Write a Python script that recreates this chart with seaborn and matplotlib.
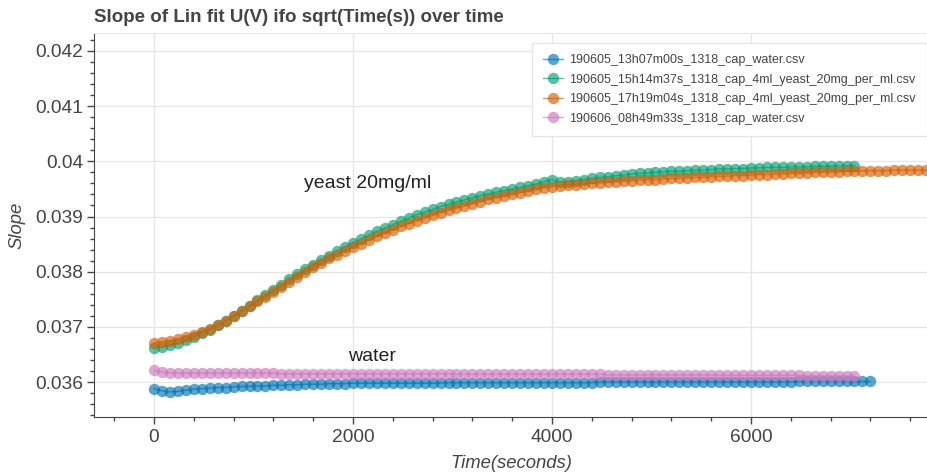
import numpy as np
import pandas as pd
import matplotlib
matplotlib.use('Agg')
import matplotlib.pyplot as plt
import seaborn as sns
from matplotlib.ticker import MultipleLocator, FixedLocator, FixedFormatter

# file names (legend entries)
files = [
    '190605_13h07m00s_1318_cap_water.csv',
    '190605_15h14m37s_1318_cap_4ml_yeast_20mg_per_ml.csv',
    '190605_17h19m04s_1318_cap_4ml_yeast_20mg_per_ml.csv',
    '190606_08h49m33s_1318_cap_water.csv',
]

# sampling grid, seconds
time_s = np.arange(0, 7921, 80)

# slope values
water_1 = [
    0.03588, 0.03584, 0.03582, 0.03583, 0.03585, 0.03587, 0.03588, 0.03589, 0.03590, 0.03590,
    0.03591, 0.03592, 0.03592, 0.03593, 0.03593, 0.03594, 0.03594, 0.03595, 0.03595, 0.03596,
    0.03596, 0.03596, 0.03597, 0.03597, 0.03597, 0.03598, 0.03598, 0.03598, 0.03598, 0.03598,
    0.03598, 0.03598, 0.03598, 0.03598, 0.03598, 0.03598, 0.03598, 0.03599, 0.03599, 0.03599,
    0.03599, 0.03599, 0.03599, 0.03599, 0.03599, 0.03599, 0.03599, 0.03599, 0.03599, 0.03599,
    0.03599, 0.03599, 0.03599, 0.03599, 0.03599, 0.03599, 0.03600, 0.03600, 0.03600, 0.03600,
    0.03600, 0.03600, 0.03600, 0.03600, 0.03600, 0.03600, 0.03600, 0.03600, 0.03600, 0.03600,
    0.03600, 0.03600, 0.03600, 0.03600, 0.03600, 0.03600, 0.03600, 0.03600, 0.03600, 0.03600,
    0.03600, 0.03601, 0.03601, 0.03601, 0.03601, 0.03601, 0.03601, 0.03601, 0.03601, 0.03601,
    0.03601,
]

yeast_1 = [
    0.03661, 0.03664, 0.03667, 0.03671, 0.03676, 0.03682, 0.03688, 0.03695, 0.03703, 0.03711,
    0.03720, 0.03729, 0.03738, 0.03748, 0.03757, 0.03767, 0.03776, 0.03786, 0.03795, 0.03804,
    0.03813, 0.03821, 0.03829, 0.03837, 0.03845, 0.03852, 0.03859, 0.03866, 0.03873, 0.03879,
    0.03885, 0.03891, 0.03897, 0.03903, 0.03908, 0.03913, 0.03918, 0.03922, 0.03926, 0.03930,
    0.03934, 0.03938, 0.03941, 0.03944, 0.03947, 0.03950, 0.03953, 0.03956, 0.03959, 0.03963,
    0.03967, 0.03962, 0.03963, 0.03965, 0.03967, 0.03969, 0.03971, 0.03972, 0.03974, 0.03975,
    0.03977, 0.03978, 0.03979, 0.03980, 0.03981, 0.03982, 0.03982, 0.03983, 0.03984, 0.03984,
    0.03985, 0.03986, 0.03986, 0.03987, 0.03987, 0.03988, 0.03988, 0.03989, 0.03989, 0.03989,
    0.03990, 0.03990, 0.03990, 0.03991, 0.03991, 0.03991, 0.03992, 0.03992, 0.03992,
]

yeast_2 = [
    0.03671, 0.03673, 0.03675, 0.03678, 0.03682, 0.03686, 0.03691, 0.03697, 0.03704, 0.03711,
    0.03719, 0.03728, 0.03737, 0.03746, 0.03755, 0.03764, 0.03773, 0.03782, 0.03791, 0.03800,
    0.03808, 0.03816, 0.03824, 0.03831, 0.03838, 0.03845, 0.03851, 0.03857, 0.03864, 0.03870,
    0.03876, 0.03882, 0.03887, 0.03892, 0.03897, 0.03902, 0.03907, 0.03911, 0.03915, 0.03919,
    0.03923, 0.03927, 0.03931, 0.03934, 0.03937, 0.03940, 0.03943, 0.03946, 0.03949, 0.03952,
    0.03954, 0.03956, 0.03957, 0.03958, 0.03959, 0.03960, 0.03961, 0.03962, 0.03963, 0.03964,
    0.03965, 0.03966, 0.03967, 0.03967, 0.03968, 0.03969, 0.03969, 0.03970, 0.03971, 0.03971,
    0.03972, 0.03973, 0.03973, 0.03974, 0.03974, 0.03975, 0.03976, 0.03976, 0.03977, 0.03977,
    0.03978, 0.03978, 0.03979, 0.03980, 0.03980, 0.03981, 0.03981, 0.03982, 0.03982, 0.03983,
    0.03983, 0.03983, 0.03983, 0.03984, 0.03984, 0.03984, 0.03984, 0.03984, 0.03984, 0.03984,
]

water_2 = [
    0.03621, 0.03618, 0.03617, 0.03616, 0.03616, 0.03616, 0.03616, 0.03616, 0.03616, 0.03616,
    0.03616, 0.03616, 0.03616, 0.03616, 0.03616, 0.03616, 0.03615, 0.03615, 0.03615, 0.03615,
    0.03615, 0.03615, 0.03615, 0.03615, 0.03615, 0.03615, 0.03615, 0.03615, 0.03615, 0.03615,
    0.03615, 0.03615, 0.03615, 0.03615, 0.03615, 0.03615, 0.03615, 0.03615, 0.03614, 0.03614,
    0.03614, 0.03614, 0.03614, 0.03614, 0.03614, 0.03614, 0.03614, 0.03614, 0.03614, 0.03614,
    0.03614, 0.03614, 0.03614, 0.03614, 0.03614, 0.03614, 0.03614, 0.03613, 0.03613, 0.03613,
    0.03613, 0.03613, 0.03613, 0.03613, 0.03613, 0.03613, 0.03613, 0.03613, 0.03613, 0.03613,
    0.03613, 0.03612, 0.03612, 0.03612, 0.03612, 0.03612, 0.03612, 0.03612, 0.03612, 0.03612,
    0.03612, 0.03612, 0.03611, 0.03611, 0.03611, 0.03611, 0.03611, 0.03611, 0.03611,
]

series = [water_1, yeast_1, yeast_2, water_2]

xticks = [0, 2000, 4000, 6000]
yticks = [0.036, 0.037, 0.038, 0.039, 0.040, 0.041, 0.042]
ytick_labels = ['0.036', '0.037', '0.038', '0.039', '0.04', '0.041', '0.042']

frames = []
for name, vals in zip(files, series):
    frames.append(pd.DataFrame({'time': time_s[:len(vals)], 'slope': vals, 'file': name}))
df = pd.concat(frames, ignore_index=True)

sns.set_style('white')
plt.rcParams['font.family'] = ['Liberation Sans', 'DejaVu Sans']

cb = sns.color_palette('colorblind')
colors = [cb[0], cb[2], cb[3], cb[4]]

fig = plt.figure(figsize=(9.28, 4.76), dpi=100)
ax = fig.add_axes([94 / 928, 1 - 417 / 476, 834 / 928, 384 / 476])

sns.lineplot(data=df, x='time', y='slope', hue='file', hue_order=files, palette=colors,
             marker='o', markersize=8.2, markeredgewidth=0, alpha=0.65, linewidth=1,
             estimator=None, sort=False, ax=ax)

ax.set_xlim(-603, 7779)
ax.set_ylim(0.035366, 0.042326)

ax.xaxis.set_major_locator(FixedLocator(xticks))
ax.xaxis.set_minor_locator(MultipleLocator(400))
ax.yaxis.set_major_locator(FixedLocator(yticks))
ax.yaxis.set_major_formatter(FixedFormatter(ytick_labels))
ax.yaxis.set_minor_locator(MultipleLocator(0.0002))

txt = '#444444'
ax.tick_params(which='major', direction='out', length=5, width=1, color=txt,
               labelsize=13.8, labelcolor=txt, left=True, bottom=True)
ax.tick_params(axis='x', which='major', pad=4)
ax.tick_params(axis='y', which='major', pad=3)
ax.tick_params(which='minor', direction='out', length=3, width=1, color=txt, left=True, bottom=True)

ax.grid(True, which='major', color='#e6e6e6', linewidth=1)
ax.spines['right'].set_visible(False)
ax.spines['top'].set_color('#e6e6e6')
ax.spines['left'].set_color(txt)
ax.spines['bottom'].set_color(txt)

ax.set_xlabel('Time(seconds)', fontsize=13.3, style='italic', color=txt, labelpad=6)
ax.set_ylabel('Slope', fontsize=13.3, style='italic', color=txt, labelpad=7)
ax.set_title('Slope of Lin fit U(V) ifo sqrt(Time(s)) over time', loc='left',
             fontsize=13.5, fontweight='bold', color=txt, pad=8)

ax.text(1508, 0.03959, 'yeast 20mg/ml', fontsize=14, va='center', ha='left', color='#222222')
ax.text(1950, 0.03647, 'water', fontsize=14, va='center', ha='left', color='#222222')

handles, labels = ax.get_legend_handles_labels()
leg = ax.legend(handles, labels, loc='upper right', bbox_to_anchor=(0.999, 0.974),
                borderaxespad=0, fontsize=9, labelcolor=txt, frameon=True, fancybox=False,
                edgecolor='#e6e6e6', framealpha=1, labelspacing=0.6, handlelength=1.6,
                handletextpad=0.5, borderpad=0.9, title=None)
leg.get_frame().set_linewidth(1)

fig.savefig('out.png', dpi=100)
